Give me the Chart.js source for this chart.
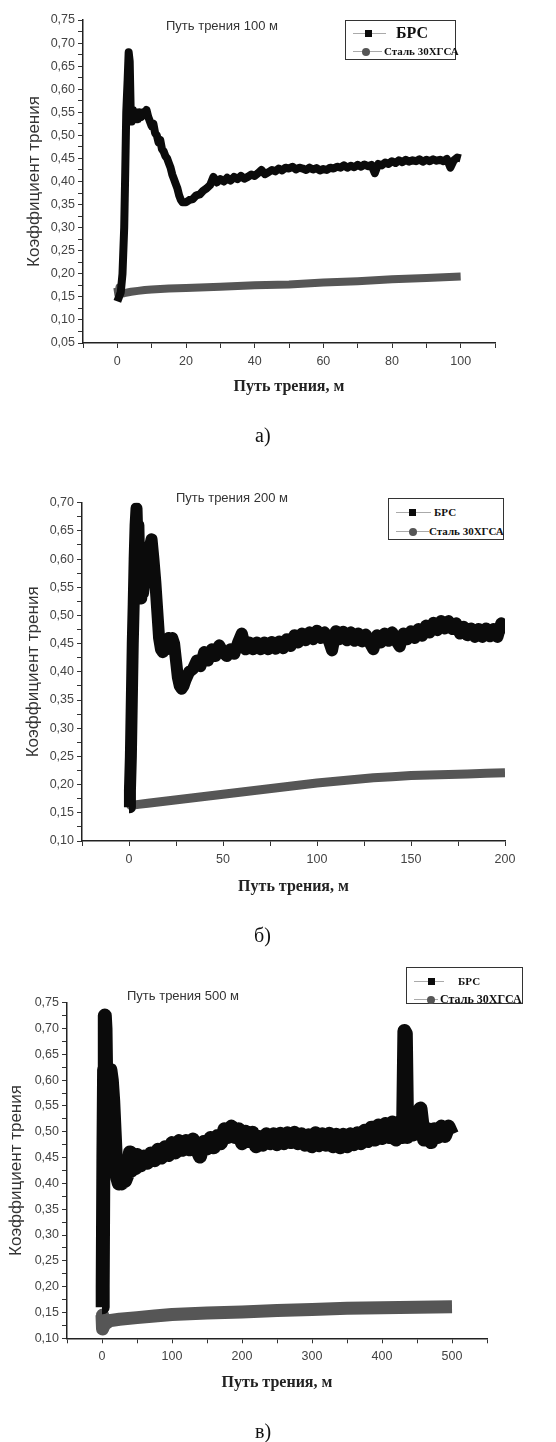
<!DOCTYPE html>
<html>
<head>
<meta charset="utf-8">
<script src="https://cdn.jsdelivr.net/npm/chart.js@4.4.1/dist/chart.umd.min.js"></script>
<style>
    body { margin: 0; background: #fff; width: 556px; height: 1442px; position: relative; overflow: hidden; font-family: "Liberation Sans", Arial, sans-serif; }
    canvas { position: absolute; left: 0; }
    .lbl { position: absolute; white-space: nowrap; line-height: 1; }
    .ttl { font-size: 13px; color: #333; }
    .cap { font-family: "Liberation Serif", serif; font-size: 20px; color: #111; }
    .leg { position: absolute; border: 1px solid #333; background: #fff; box-sizing: border-box; }
    .leg span { position: absolute; }
</style>
</head>
<body>
<canvas id="chartA" width="556" height="400" style="top:0px"></canvas>
<canvas id="chartB" width="556" height="420" style="top:480px"></canvas>
<canvas id="chartC" width="556" height="440" style="top:960px"></canvas>

<script>
const seriesNames = ['БРС', 'Сталь 30ХГСА'];
const panelTitles = ['Путь трения 100 м', 'Путь трения 200 м', 'Путь трения 500 м'];
const panelCaptions = ['а)', 'б)', 'в)'];
const yTitle = 'Коэффициент трения';
const xTitle = 'Путь трения, м';

// а) 100 m
const distA_brs = [0, 0.5, 1, 1.5, 2, 2.3, 2.6, 3, 3.3, 3.6, 3.9, 4.2, 4.6, 5, 5.5, 6, 6.5, 7, 7.5, 8, 8.5, 9, 9.5, 10, 10.5, 11, 11.5, 12, 12.5, 13, 13.5, 14, 14.5, 15, 15.5, 16, 16.5, 17, 17.5, 18, 18.5, 19,
    20, 21, 22, 23, 24, 25, 26, 27, 28, 29, 30, 31, 32, 33, 34, 35, 36, 37, 38, 39, 40, 41, 42, 43, 44, 45, 46, 47, 48, 49, 50, 51, 52, 53, 54, 55, 56, 57, 58, 59,
    60, 61, 62, 63, 64, 65, 66, 67, 68, 69, 70, 71, 72, 73, 74, 75, 76, 77, 78, 79, 80, 81, 82, 83, 84, 85, 86, 87, 88, 89, 90, 91, 92, 93, 94, 95, 96, 97, 98, 99, 100];
const coefA_brs = [0.14, 0.15, 0.16, 0.20, 0.30, 0.42, 0.55, 0.62, 0.68, 0.66, 0.55, 0.53, 0.555, 0.54, 0.55, 0.535, 0.55, 0.54, 0.55, 0.545, 0.555, 0.54, 0.53, 0.52, 0.525, 0.505, 0.50, 0.485, 0.49, 0.47, 0.465, 0.455, 0.45, 0.44, 0.43, 0.415, 0.405, 0.395, 0.385, 0.37, 0.36, 0.355,
    0.355, 0.36, 0.362, 0.37, 0.372, 0.38, 0.385, 0.392, 0.41, 0.398, 0.405, 0.40, 0.408, 0.402, 0.41, 0.405, 0.412, 0.406, 0.41, 0.415, 0.412, 0.418, 0.425, 0.416, 0.42, 0.425, 0.422, 0.428, 0.424, 0.43, 0.428, 0.432, 0.426, 0.43, 0.428, 0.425, 0.43, 0.426, 0.429, 0.424,
    0.427, 0.425, 0.43, 0.428, 0.432, 0.43, 0.435, 0.43, 0.434, 0.431, 0.436, 0.432, 0.437, 0.433, 0.436, 0.418, 0.438, 0.435, 0.441, 0.438, 0.444, 0.44, 0.446, 0.442, 0.447, 0.443, 0.446, 0.444, 0.448, 0.443, 0.447, 0.444, 0.448, 0.445, 0.447, 0.444, 0.449, 0.43, 0.446, 0.452, 0.45];
const distA_st = [0, 0.3, 0.6, 1, 2, 4, 6, 8, 10, 15, 20, 30, 40, 50, 60, 70, 80, 90, 100];
const coefA_st = [0.17, 0.155, 0.17, 0.157, 0.158, 0.161, 0.163, 0.165, 0.166, 0.168, 0.169, 0.172, 0.175, 0.177, 0.181, 0.184, 0.188, 0.191, 0.194];

// б) 200 m
const distB_brs = [0, 0.5, 1, 1.5, 2, 2.5, 3, 3.5, 4, 4.5, 5, 5.5, 6, 6.5, 7, 7.5, 8, 9, 10, 11, 12, 13, 14, 15, 16, 17, 18, 19, 20, 21, 22, 23, 24, 25, 26, 27, 28, 29,
    30, 32, 34, 36, 38, 40, 42, 44, 46, 48, 50, 52, 54, 56, 58, 60, 62, 64, 66, 68, 70, 72, 74, 76, 78, 80, 82, 84, 86, 88, 90, 92, 94, 96, 98, 100, 102, 104, 106, 108, 110, 112, 114,
    116, 118, 120, 122, 124, 126, 128, 130, 132, 134, 136, 138, 140, 142, 144, 146, 148, 150, 152, 154, 156, 158, 160, 162, 164, 166, 168, 170, 172, 174, 176, 178, 180, 182, 184, 186, 188, 190, 192, 194, 196, 198, 200];
const coefB_brs = [0.16, 0.19, 0.25, 0.35, 0.45, 0.52, 0.60, 0.66, 0.69, 0.63, 0.66, 0.57, 0.60, 0.53, 0.56, 0.54, 0.555, 0.56, 0.58, 0.62, 0.635, 0.60, 0.56, 0.51, 0.46, 0.44, 0.435, 0.45, 0.44, 0.46, 0.455, 0.46, 0.45, 0.42, 0.39, 0.375, 0.37, 0.375,
    0.385, 0.40, 0.405, 0.42, 0.41, 0.435, 0.42, 0.44, 0.428, 0.447, 0.435, 0.428, 0.44, 0.432, 0.452, 0.468, 0.44, 0.452, 0.44, 0.452, 0.44, 0.452, 0.44, 0.453, 0.441, 0.454, 0.442, 0.458, 0.446, 0.465, 0.452, 0.468, 0.456, 0.47, 0.458, 0.473, 0.46, 0.47, 0.458, 0.438, 0.472, 0.458, 0.471,
    0.456, 0.47, 0.455, 0.468, 0.454, 0.466, 0.452, 0.44, 0.465, 0.452, 0.468, 0.455, 0.47, 0.456, 0.445, 0.468, 0.458, 0.472, 0.46, 0.476, 0.464, 0.482, 0.47, 0.487, 0.474, 0.49, 0.477, 0.49, 0.476, 0.486, 0.468, 0.48, 0.465, 0.477, 0.462, 0.476, 0.462, 0.477, 0.463, 0.476, 0.462, 0.486, 0.468];
const distB_st = [0, 0.3, 0.6, 1, 3, 5, 10, 20, 30, 40, 50, 60, 70, 80, 90, 100, 110, 120, 130, 140, 150, 160, 170, 180, 190, 200];
const coefB_st = [0.20, 0.185, 0.165, 0.163, 0.164, 0.165, 0.167, 0.171, 0.175, 0.179, 0.183, 0.187, 0.191, 0.195, 0.199, 0.203, 0.206, 0.209, 0.212, 0.214, 0.216, 0.217, 0.218, 0.219, 0.22, 0.221];

// в) 500 m
const distC_brs = [0, 1, 2, 3, 4, 5, 6, 7, 8, 9, 10, 12, 14, 16, 18, 20, 22, 24, 26, 28, 30, 33, 36, 38, 40, 42, 45, 48,
    50, 55, 60, 65, 70, 75, 80, 85, 90, 95, 100, 105, 110, 115, 120, 125, 130, 135, 140, 145, 150, 155, 160, 165, 170, 175, 180, 185, 190, 195, 200, 205, 210, 215, 220, 225, 230, 235, 240, 245,
    250, 255, 260, 265, 270, 275, 280, 285, 290, 295, 300, 305, 310, 315, 320, 325, 330, 335, 340, 345, 350, 355, 360, 365, 370, 375, 380, 385, 390, 395, 400, 405, 410, 415, 420, 425, 430,
    432, 434, 436, 440, 445, 450, 455, 458, 460, 465, 470, 475, 480, 485, 490, 495, 500];
const coefC_brs = [0.16, 0.20, 0.45, 0.62, 0.725, 0.70, 0.60, 0.57, 0.62, 0.58, 0.60, 0.62, 0.60, 0.56, 0.50, 0.44, 0.41, 0.40, 0.405, 0.40, 0.41, 0.405, 0.415, 0.44, 0.46, 0.425, 0.44, 0.43,
    0.455, 0.435, 0.452, 0.44, 0.458, 0.445, 0.465, 0.45, 0.47, 0.455, 0.478, 0.46, 0.482, 0.465, 0.482, 0.466, 0.485, 0.468, 0.452, 0.48, 0.468, 0.488, 0.47, 0.492, 0.478, 0.505, 0.49, 0.51, 0.49, 0.505, 0.478, 0.50, 0.482, 0.498, 0.472, 0.49, 0.475, 0.495, 0.478, 0.495,
    0.476, 0.496, 0.478, 0.497, 0.48, 0.498, 0.478, 0.495, 0.475, 0.493, 0.472, 0.497, 0.474, 0.495, 0.475, 0.496, 0.472, 0.494, 0.47, 0.494, 0.472, 0.495, 0.476, 0.497, 0.478, 0.502, 0.482, 0.508, 0.485, 0.512, 0.488, 0.515, 0.49, 0.518, 0.485, 0.51, 0.49,
    0.695, 0.69, 0.49, 0.512, 0.495, 0.535, 0.545, 0.51, 0.485, 0.505, 0.48, 0.505, 0.49, 0.51, 0.492, 0.51, 0.495];
const distC_st = [0, 0.5, 1, 2, 4, 8, 10, 25, 50, 75, 100, 150, 200, 250, 300, 350, 400, 450, 500];
const coefC_st = [0.145, 0.135, 0.118, 0.122, 0.127, 0.131, 0.134, 0.137, 0.14, 0.143, 0.146, 0.149, 0.151, 0.154, 0.156, 0.158, 0.159, 0.16, 0.161];

function toPoints(xs, ys) {
    return xs.map((x, i) => ({ x: x, y: ys[i] }));
}

function commaLabel(value, step) {
    const k = Math.round(value * 1000);
    return k % step === 0 ? value.toFixed(2).replace('.', ',') : '';
}

function makeChart(id, opt) {
    const ctx = document.getElementById(id).getContext('2d');
    return new Chart(ctx, {
        type: 'line',
        data: {
            datasets: [{
                label: seriesNames[0],
                data: toPoints(opt.brs[0], opt.brs[1]),
                borderColor: '#0b0b0b',
                borderWidth: opt.brsWidth,
                pointRadius: 0,
                borderJoinStyle: 'round',
                fill: false
            }, {
                label: seriesNames[1],
                data: toPoints(opt.st[0], opt.st[1]),
                borderColor: '#565656',
                borderWidth: opt.stWidth,
                pointRadius: 0,
                borderJoinStyle: 'round',
                fill: false
            }]
        },
        options: {
            responsive: false,
            animation: false,
            layout: { padding: { top: opt.padTop, right: opt.padRight, bottom: 0, left: 0 } },
            plugins: { legend: { display: false }, tooltip: { enabled: false } },
            scales: {
                x: {
                    type: 'linear',
                    min: opt.xMin,
                    max: opt.xMax,
                    afterFit: (scale) => { scale.height = opt.xHeight; },
                    border: { display: true, color: '#222', width: 1.5 },
                    grid: { display: true, drawOnChartArea: false, drawTicks: true, tickLength: 5, color: '#333' },
                    ticks: {
                        stepSize: opt.xStep,
                        autoSkip: false,
                        maxRotation: 0,
                        padding: 6,
                        color: '#444',
                        font: { family: 'Liberation Sans', size: 12.5 },
                        callback: (v) => (v % opt.xLabelStep === 0 && v >= 0 && v <= opt.xLast) ? String(v) : ''
                    },
                    title: {
                        display: true,
                        text: xTitle,
                        color: '#222',
                        font: { family: 'Liberation Serif', size: 16, weight: 'bold' },
                        padding: { top: 0, bottom: opt.xTitlePad }
                    }
                },
                y: {
                    min: opt.yMin,
                    max: opt.yMax,
                    afterFit: (scale) => { scale.width = opt.yWidth; },
                    border: { display: true, color: '#222', width: 1.5 },
                    grid: { display: true, drawOnChartArea: false, drawTicks: true, tickLength: 5, color: '#333' },
                    ticks: {
                        stepSize: 0.025,
                        autoSkip: false,
                        padding: 3,
                        color: '#444',
                        font: { family: 'Liberation Sans', size: 12.5 },
                        callback: (v) => commaLabel(v, 50)
                    },
                    title: {
                        display: true,
                        text: yTitle,
                        color: '#333',
                        font: { family: 'Liberation Sans', size: 17 },
                        padding: { top: opt.yTitlePad, bottom: 0 }
                    }
                }
            }
        }
    });
}

makeChart('chartA', {
    brs: [distA_brs, coefA_brs], st: [distA_st, coefA_st],
    brsWidth: 8, stWidth: 8,
    xMin: -10, xMax: 110, xStep: 10, xLabelStep: 20, xLast: 100,
    yMin: 0.05, yMax: 0.75,
    padTop: 20, padRight: 61, yWidth: 83, xHeight: 57, xTitlePad: 3.4, yTitlePad: 23.8
});

makeChart('chartB', {
    brs: [distB_brs, coefB_brs], st: [distB_st, coefB_st],
    brsWidth: 12, stWidth: 9,
    xMin: -25, xMax: 200, xStep: 25, xLabelStep: 50, xLast: 200,
    yMin: 0.10, yMax: 0.70,
    padTop: 22.7, padRight: 51, yWidth: 82, xHeight: 59, xTitlePad: 3.4, yTitlePad: 23.3
});

makeChart('chartC', {
    brs: [distC_brs, coefC_brs], st: [distC_st, coefC_st],
    brsWidth: 14, stWidth: 13,
    xMin: -50, xMax: 550, xStep: 50, xLabelStep: 100, xLast: 500,
    yMin: 0.10, yMax: 0.75,
    padTop: 42.7, padRight: 69, yWidth: 67, xHeight: 61.7, xTitlePad: 7.4, yTitlePad: 5.8
});

// panel titles and captions
function addText(cls, text, left, top) {
    const el = document.createElement('div');
    el.className = 'lbl ' + cls;
    el.textContent = text;
    el.style.left = left + 'px';
    el.style.top = top + 'px';
    document.body.appendChild(el);
}

addText('ttl', panelTitles[0], 166, 19);
addText('ttl', panelTitles[1], 176, 491);
addText('ttl', panelTitles[2], 127, 989);
addText('cap', panelCaptions[0], 255, 425);
addText('cap', panelCaptions[1], 254, 925);
addText('cap', panelCaptions[2], 255, 1421);

// legend boxes
function addLegend(box, rows) {
    const leg = document.createElement('div');
    leg.className = 'leg';
    leg.style.left = box[0] + 'px';
    leg.style.top = box[1] + 'px';
    leg.style.width = box[2] + 'px';
    leg.style.height = box[3] + 'px';
    rows.forEach((r, i) => {
        const line = document.createElement('span');
        line.style.cssText = `left:${r.line[0]}px;top:${r.y}px;width:${r.line[1] - r.line[0]}px;height:1px;background:#aaa`;
        leg.appendChild(line);
        const mark = document.createElement('span');
        const s = i === 0 ? 7 : 8;
        mark.style.cssText = `left:${r.mark - s / 2}px;top:${r.y - s / 2 + 0.5}px;width:${s}px;height:${s}px;background:${i === 0 ? '#0b0b0b' : '#565656'};border-radius:${i === 0 ? 0 : 50}%`;
        leg.appendChild(mark);
        const txt = document.createElement('span');
        txt.textContent = seriesNames[i];
        txt.style.cssText = `left:${r.text}px;top:${r.y - r.size / 2}px;font:bold ${r.size}px "Liberation Serif",serif;line-height:1;color:#111;white-space:nowrap`;
        leg.appendChild(txt);
    });
    document.body.appendChild(leg);
}

addLegend([345, 20, 111, 40], [
    { y: 12, line: [7, 40], mark: 22, text: 50, size: 16 },
    { y: 30, line: [7, 36], mark: 20, text: 38, size: 11 }
]);
addLegend([388, 498, 116, 42], [
    { y: 13, line: [7, 42], mark: 23, text: 45, size: 11 },
    { y: 32, line: [7, 40], mark: 24, text: 40, size: 11 }
]);
addLegend([406, 967, 117, 37], [
    { y: 13, line: [7, 37], mark: 24, text: 51, size: 11 },
    { y: 31, line: [7, 31], mark: 24, text: 33, size: 12 }
]);
</script>
</body>
</html>
